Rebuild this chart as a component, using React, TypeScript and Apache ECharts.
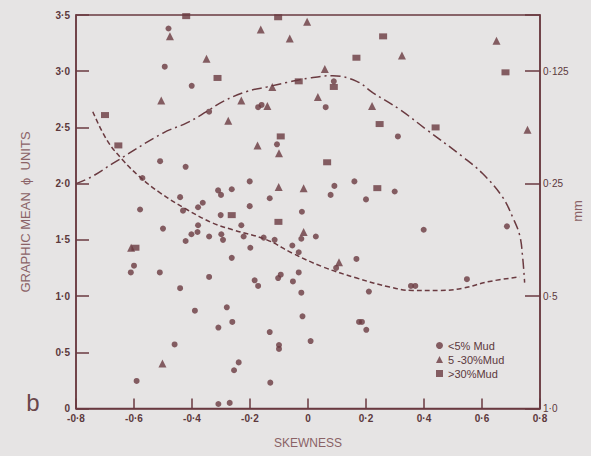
import React, { useEffect, useRef } from "react";
import * as echarts from "echarts";

// Tick labels
const xTickLabels = ["-0·8", "-0·6", "-0·4", "-0·2", "0", "0·2", "0·4", "0·6", "0·8"];
const yTickLabels = ["0", "0·5", "1·0", "1·5", "2·0", "2·5", "3·0", "3·5"];
const mmTickLabels = ["1·0", "0·5", "0·25", "0·125"];

// Legend names
const seriesNames = ["<5% Mud", "5 -30%Mud", ">30%Mud"];

// <5% mud samples [skewness, graphic mean phi]
const lowMud: number[][] = [
  [-0.481, 3.38], [-0.494, 3.04], [-0.401, 2.87], [-0.341, 2.64], [-0.51, 2.2],
  [-0.422, 2.15], [-0.571, 2.05], [-0.441, 1.88], [-0.363, 1.83], [-0.379, 1.79],
  [-0.31, 1.94], [-0.3, 1.9], [-0.263, 1.95], [-0.579, 1.77], [-0.172, 2.68],
  [-0.16, 2.7], [0.061, 2.68], [0.089, 2.91], [-0.107, 2.35], [-0.201, 2.02],
  [0.091, 1.98], [0.16, 2.02], [-0.132, 1.87], [0.078, 1.9], [0.2, 1.86],
  [-0.201, 1.8], [-0.021, 1.75], [0.31, 2.42], [0.299, 1.93], [-0.431, 1.76],
  [-0.301, 1.72], [-0.5, 1.6], [-0.379, 1.63], [-0.402, 1.55], [-0.381, 1.57],
  [-0.422, 1.49], [-0.341, 1.53], [-0.299, 1.55], [-0.293, 1.5], [-0.6, 1.27],
  [-0.611, 1.21], [-0.511, 1.21], [-0.263, 1.34], [-0.341, 1.17], [-0.441, 1.07],
  [-0.39, 0.87], [-0.28, 0.9], [-0.261, 0.77], [-0.309, 0.72], [-0.46, 0.57],
  [-0.591, 0.245], [-0.255, 0.34], [-0.309, 0.04], [-0.27, 0.05], [-0.23, 1.63],
  [-0.023, 1.51], [0.027, 1.53], [-0.222, 1.53], [-0.153, 1.52], [-0.115, 1.5],
  [-0.199, 1.43], [-0.054, 1.45], [-0.032, 1.39], [0.097, 1.25], [0.167, 1.33],
  [-0.184, 1.14], [-0.172, 1.09], [-0.094, 1.19], [-0.103, 1.16], [-0.052, 1.13],
  [-0.032, 1.21], [-0.023, 1.03], [0.21, 1.04], [-0.019, 0.82], [0.176, 0.77],
  [0.186, 0.77], [0.201, 0.7], [-0.132, 0.68], [-0.1, 0.565], [-0.1, 0.53],
  [0.009, 0.6], [-0.239, 0.41], [-0.13, 0.23], [0.399, 1.59], [0.686, 1.62],
  [0.355, 1.09], [0.37, 1.09], [0.548, 1.15],
];

// 5-30% mud samples
const midMud: number[][] = [
  [-0.476, 3.31], [-0.35, 3.11], [-0.506, 2.74], [-0.275, 2.56], [-0.003, 3.44],
  [-0.163, 3.37], [-0.063, 3.29], [0.058, 3.02], [-0.123, 2.86], [-0.23, 2.74],
  [-0.14, 2.69], [0.034, 2.77], [0.221, 2.69], [-0.174, 2.34], [-0.1, 2.27],
  [-0.101, 1.97], [-0.015, 1.96], [0.65, 3.27], [0.324, 3.14], [0.757, 2.48],
  [-0.61, 1.43], [-0.502, 0.4], [-0.015, 1.57], [0.107, 1.3],
];

// >30% mud samples
const highMud: number[][] = [
  [-0.42, 3.49], [-0.312, 2.94], [-0.7, 2.61], [-0.654, 2.34], [-0.103, 3.48],
  [0.259, 3.31], [0.167, 3.12], [-0.032, 2.91], [0.089, 2.86], [0.247, 2.53],
  [-0.094, 2.42], [0.066, 2.19], [0.239, 1.96], [0.681, 2.99], [0.44, 2.5],
  [-0.263, 1.72], [-0.102, 1.66], [-0.595, 1.43],
];

// Dash-dot envelope curve
const upperCurve: number[][] = [
  [-0.8, 2.0], [-0.747, 2.06], [-0.673, 2.18], [-0.5, 2.45], [-0.418, 2.54],
  [-0.35, 2.64], [-0.294, 2.73], [-0.211, 2.82], [-0.142, 2.86], [-0.073, 2.9],
  [0.006, 2.94], [0.085, 2.96], [0.168, 2.91], [0.223, 2.81], [0.316, 2.66],
  [0.409, 2.48], [0.533, 2.24], [0.602, 2.09], [0.671, 1.88], [0.706, 1.7],
  [0.73, 1.54], [0.74, 1.35], [0.747, 1.12],
];

// Dashed envelope curve
const lowerCurve: number[][] = [
  [-0.742, 2.64], [-0.694, 2.39], [-0.639, 2.21], [-0.58, 2.06], [-0.511, 1.92],
  [-0.418, 1.77], [-0.329, 1.65], [-0.26, 1.59], [-0.142, 1.5], [-0.053, 1.38],
  [0.051, 1.26], [0.168, 1.16], [0.282, 1.08], [0.361, 1.05], [0.454, 1.05],
  [0.533, 1.07], [0.626, 1.13], [0.73, 1.17],
];

const INK = "#6a3a40";
const TEXT = "#5c383c";
const SOFT = "#8a6266";
const BG = "#e6e4e4";
const FONT = "'Liberation Sans', Arial, sans-serif";

export default function App() {
  const ref = useRef<HTMLDivElement>(null);

  useEffect(() => {
    if (!ref.current) return;
    const chart = echarts.init(ref.current, null, { renderer: "svg" });
    const option: any = {
      animation: false,
      backgroundColor: BG,
      textStyle: { fontFamily: FONT },
      grid: {
        left: 76,
        right: 51,
        top: 15,
        bottom: 47.5,
        show: true,
        borderColor: INK,
        borderWidth: 1.5,
        backgroundColor: "transparent",
      },
      legend: {
        data: seriesNames,
        orient: "vertical",
        left: 431,
        top: 335,
        itemWidth: 7,
        itemHeight: 7,
        itemGap: 3,
        textStyle: { color: TEXT, fontSize: 11, fontFamily: FONT },
      },
      xAxis: {
        type: "value",
        min: -0.8,
        max: 0.8,
        interval: 0.2,
        splitLine: { show: false },
        axisLine: { onZero: false, lineStyle: { color: INK, width: 1.5 } },
        axisTick: { inside: true, length: 10, lineStyle: { color: INK, width: 1.5 } },
        axisLabel: {
          color: TEXT,
          fontSize: 10,
          fontWeight: "bold",
          margin: 5,
          formatter: (v: number) => xTickLabels[Math.round((v + 0.8) / 0.2)] ?? "",
        },
        name: "SKEWNESS",
        nameLocation: "middle",
        nameGap: 28,
        nameTextStyle: { color: SOFT, fontSize: 12, fontFamily: FONT },
      },
      yAxis: [
        {
          type: "value",
          min: 0,
          max: 3.5,
          interval: 0.5,
          splitLine: { show: false },
          axisLine: { onZero: false, lineStyle: { color: INK, width: 1.5 } },
          axisTick: { inside: true, length: 13, lineStyle: { color: INK, width: 1.5 } },
          axisLabel: {
            color: TEXT,
            fontSize: 10,
            fontWeight: "bold",
            margin: 6,
            formatter: (v: number) => yTickLabels[Math.round(v / 0.5)] ?? "",
          },
        },
        {
          type: "value",
          position: "right",
          min: 0,
          max: 3.5,
          interval: 1,
          splitLine: { show: false },
          axisLine: { show: true, onZero: false, lineStyle: { color: INK, width: 1.5 } },
          axisTick: { inside: true, length: 15, lineStyle: { color: INK, width: 1.5 } },
          axisLabel: {
            color: TEXT,
            fontSize: 10,
            margin: 3,
            formatter: (v: number) =>
              Math.abs(v - Math.round(v)) < 1e-6 ? mmTickLabels[Math.round(v)] ?? "" : "",
          },
        },
      ],
      graphic: [
        {
          type: "text",
          x: 25,
          y: 212,
          rotation: Math.PI / 2,
          style: {
            text: "GRAPHIC MEAN  ϕ  UNITS",
            fill: SOFT,
            fontSize: 13,
            fontFamily: FONT,
            align: "center",
            verticalAlign: "middle",
          },
        },
        {
          type: "text",
          x: 577,
          y: 211,
          rotation: Math.PI / 2,
          style: {
            text: "mm",
            fill: SOFT,
            fontSize: 13,
            fontFamily: FONT,
            align: "center",
            verticalAlign: "middle",
          },
        },
        {
          type: "text",
          x: 33,
          y: 402,
          style: {
            text: "b",
            fill: "#6a474b",
            fontSize: 24,
            fontFamily: FONT,
            align: "center",
            verticalAlign: "middle",
          },
        },
      ],
      series: [
        {
          type: "line",
          data: upperCurve,
          smooth: 0.4,
          showSymbol: false,
          silent: true,
          z: 1,
          lineStyle: { color: INK, width: 1.5, type: [10, 4, 2, 4] },
        },
        {
          type: "line",
          data: lowerCurve,
          smooth: 0.4,
          showSymbol: false,
          silent: true,
          z: 1,
          lineStyle: { color: INK, width: 1.5, type: [5, 3] },
        },
        {
          name: seriesNames[0],
          type: "scatter",
          data: lowMud,
          symbol: "circle",
          symbolSize: 6,
          clip: false,
          itemStyle: { color: INK },
          z: 3,
        },
        {
          name: seriesNames[1],
          type: "scatter",
          data: midMud,
          symbol: "triangle",
          symbolSize: 8,
          clip: false,
          itemStyle: { color: INK },
          z: 3,
        },
        {
          name: seriesNames[2],
          type: "scatter",
          data: highMud,
          symbol: "rect",
          symbolSize: [8, 6],
          clip: false,
          itemStyle: { color: INK },
          z: 3,
        },
      ],
    };
    chart.setOption(option);
    return () => chart.dispose();
  }, []);

  return (
    <div
      ref={ref}
      style={{ position: "absolute", left: 0, top: 0, width: 591, height: 456, background: BG }}
    />
  );
}
